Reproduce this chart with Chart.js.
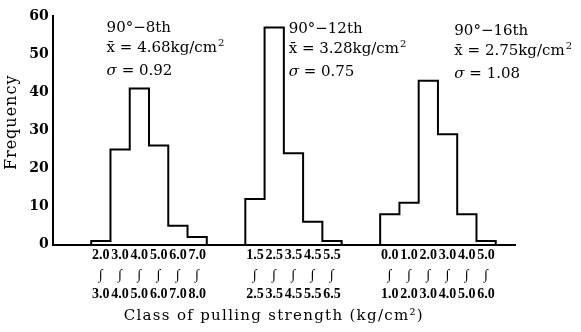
<!DOCTYPE html>
<html>
<head>
<meta charset="utf-8">
<script src="https://cdn.jsdelivr.net/npm/chart.js@4.4.1/dist/chart.umd.min.js"></script>
<style>
  html, body { margin: 0; padding: 0; background: #fff; }
  #wrap { width: 581px; height: 332px; }
</style>
</head>
<body>
<div id="wrap"><canvas id="histChart" width="581" height="332"></canvas></div>
<script>
// class boundaries (kg/cm2) and frequencies for each group
const groupNames = ['90°−8th', '90°−12th', '90°−16th'];
const means = ['4.68', '3.28', '2.75'];
const sigmas = ['0.92', '0.75', '1.08'];

const edges8 = ['2.0', '3.0', '4.0', '5.0', '6.0', '7.0', '8.0'];
const counts8 = [1, 25, 41, 26, 5, 2];

const edges12 = ['1.5', '2.5', '3.5', '4.5', '5.5', '6.5'];
const counts12 = [12, 57, 24, 6, 1];

const edges16 = ['0.0', '1.0', '2.0', '3.0', '4.0', '5.0', '6.0'];
const counts16 = [8, 11, 43, 29, 8, 1];

const yTicks = [0, 10, 20, 30, 40, 50, 60];

// where each group starts on the class axis (in class-widths)
const groupStart = [2, 10, 17];
const totalBins = 24;

const groups = [
  { edges: edges8, counts: counts8 },
  { edges: edges12, counts: counts12 },
  { edges: edges16, counts: counts16 }
];

// step outline points: one per bin edge
function stepPoints(g, start) {
  const pts = [{ x: start, y: 0 }];
  g.counts.forEach((c, i) => pts.push({ x: start + i, y: c }));
  pts.push({ x: start + g.counts.length, y: 0 });
  return pts;
}

const tickLabels = {};
groups.forEach((g, gi) => {
  g.counts.forEach((c, i) => {
    tickLabels[groupStart[gi] + i + 0.5] = [g.edges[i], '∫', g.edges[i + 1]];
  });
});
const tickValues = Object.keys(tickLabels).map(Number).sort((a, b) => a - b);

const datasets = groups.map((g, gi) => ({
  label: groupNames[gi],
  data: stepPoints(g, groupStart[gi]),
  stepped: 'before',
  borderColor: '#000',
  borderWidth: 2,
  pointRadius: 0,
  fill: false
}));

// spaced-out axis titles like the printed figure
function spacedTitle(spacing, dx, dy) {
  return function (scale) {
    if (scale._spaced) return;
    scale._spaced = true;
    const orig = scale.drawTitle;
    scale.drawTitle = function () {
      this.ctx.save();
      this.ctx.letterSpacing = spacing;
      this.ctx.translate(dx, dy);
      orig.apply(this, arguments);
      this.ctx.restore();
    };
  };
}

const notesPlugin = {
  id: 'notes',
  afterDraw(chart) {
    const ctx = chart.ctx;
    const xs = chart.scales.x;
    const noteX = [2.8, 12.25, 20.85];
    const noteTop = [31.5, 33, 35];
    ctx.save();
    ctx.fillStyle = '#000';
    ctx.textAlign = 'left';
    ctx.textBaseline = 'alphabetic';
    groupNames.forEach((name, i) => {
      const x = xs.getPixelForValue(noteX[i]);
      const y = noteTop[i];
      ctx.font = '15px "DejaVu Serif"';
      ctx.fillText(name, x, y);
      const line2 = 'x\u0304 = ' + means[i] + 'kg/cm';
      ctx.fillText(line2, x, y + 20);
      const w = ctx.measureText(line2).width;
      ctx.font = '10px "DejaVu Serif"';
      ctx.fillText('2', x + w + 1, y + 14);
      ctx.font = 'italic 15px "DejaVu Serif"';
      ctx.fillText('σ', x, y + 43);
      const sw = ctx.measureText('σ').width;
      ctx.font = '15px "DejaVu Serif"';
      ctx.fillText(' = ' + sigmas[i], x + sw, y + 43);
    });
    ctx.restore();
  }
};

const ctx = document.getElementById('histChart').getContext('2d');

new Chart(ctx, {
  type: 'line',
  data: { datasets: datasets },
  plugins: [notesPlugin],
  options: {
    responsive: false,
    animation: false,
    layout: { padding: { left: 2, right: 66, top: 16, bottom: 6.5 } },
    plugins: {
      legend: { display: false },
      tooltip: { enabled: false }
    },
    scales: {
      x: {
        type: 'linear',
        min: 0,
        max: totalBins,
        afterBuildTicks: scale => { scale.ticks = tickValues.map(v => ({ value: v })); },
        afterUpdate: spacedTitle('1.3px', -10, 0),
        grid: { drawOnChartArea: false, drawTicks: false },
        border: { color: '#000', width: 2 },
        ticks: {
          autoSkip: false,
          maxRotation: 0,
          padding: 1,
          color: '#000',
          font: { family: 'Liberation Serif', size: 14, weight: 'bold', lineHeight: 1.4 },
          callback: value => tickLabels[value] || ''
        },
        title: {
          display: true,
          text: 'Class of pulling strength (kg/cm²)',
          color: '#000',
          font: { family: 'DejaVu Serif', size: 15 },
          padding: { top: 2, bottom: 0 }
        }
      },
      y: {
        min: 0,
        max: 60,
        afterBuildTicks: scale => { scale.ticks = yTicks.map(v => ({ value: v })); },
        afterUpdate: spacedTitle('1px', 0, -8),
        grid: { drawOnChartArea: false, drawTicks: false },
        border: { color: '#000', width: 2 },
        ticks: {
          padding: 4,
          color: '#000',
          font: { family: 'DejaVu Serif', size: 14, weight: 'bold' }
        },
        title: {
          display: true,
          text: 'Frequency',
          color: '#000',
          font: { family: 'DejaVu Serif', size: 16 },
          padding: { top: 0, bottom: 4 }
        }
      }
    }
  }
});
</script>
</body>
</html>
